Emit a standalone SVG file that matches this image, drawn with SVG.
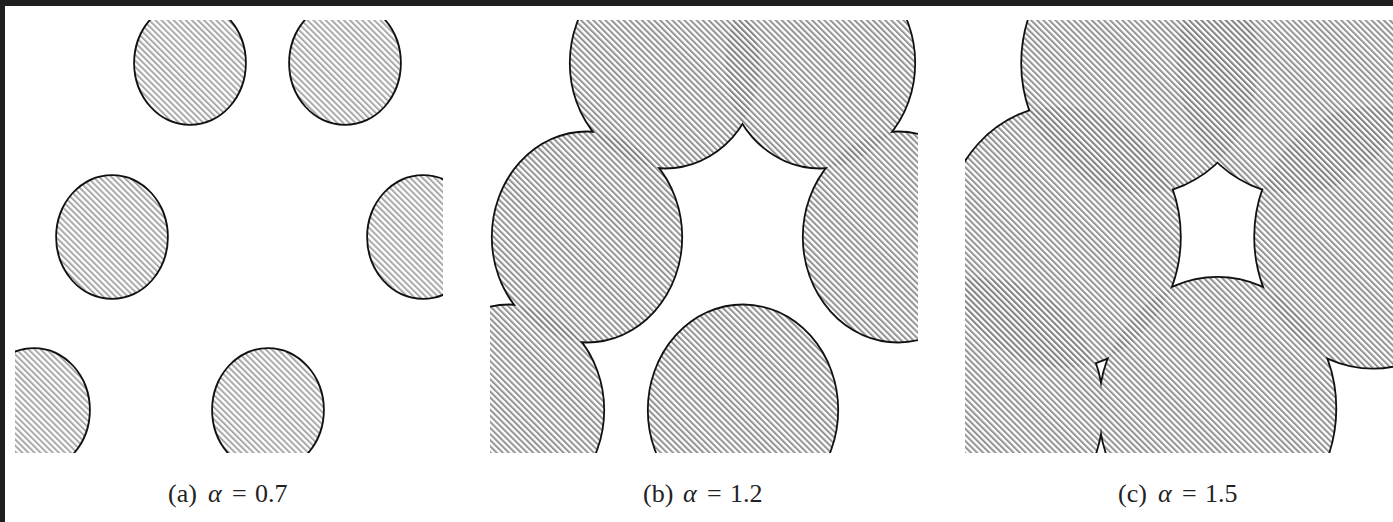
<svg xmlns="http://www.w3.org/2000/svg" xmlns:xlink="http://www.w3.org/1999/xlink" width="1393" height="522" viewBox="0 0 1393 522">
  <style>
    .outline { fill: none; stroke: #111; stroke-width: 3.6; }
    .under { fill: url(#hatchBase); stroke: none; }
    .shade { fill: url(#hatchDark); fill-opacity: 0.12; stroke: none; }
    .cap { font-family: "Liberation Serif", "DejaVu Serif", serif; font-size: 26px; fill: #222; }
    .gr { font-style: italic; }
  </style>
  <defs>
    <pattern id="hatchBase" patternUnits="userSpaceOnUse" width="4.3" height="10" patternTransform="rotate(-45)">
      <rect x="0" y="0" width="4.3" height="10" fill="#fff"/>
      <rect x="0" y="0" width="2" height="10" fill="#a9a9a9"/>
    </pattern>
    <pattern id="hatchDark" patternUnits="userSpaceOnUse" width="4.3" height="10" patternTransform="rotate(-45)">
      <rect x="0" y="0" width="2" height="10" fill="#000"/>
    </pattern>
    <clipPath id="clipA"><rect x="15" y="20" width="428" height="433"/></clipPath>
    <clipPath id="clipB"><rect x="490" y="20" width="428" height="433"/></clipPath>
    <clipPath id="clipC"><rect x="965" y="20" width="428" height="433"/></clipPath>
    <g id="setA">
      <ellipse cx="190" cy="63" rx="55" ry="61"/>
      <ellipse cx="345" cy="63" rx="55" ry="61"/>
      <ellipse cx="112" cy="237" rx="55" ry="61"/>
      <ellipse cx="423" cy="237" rx="55" ry="61"/>
      <ellipse cx="34" cy="410" rx="55" ry="61"/>
      <ellipse cx="268" cy="410" rx="55" ry="61"/>
    </g>
    <g id="setB">
      <ellipse cx="665" cy="63" rx="94.3" ry="104.6"/>
      <ellipse cx="820" cy="63" rx="94.3" ry="104.6"/>
      <ellipse cx="587" cy="237" rx="94.3" ry="104.6"/>
      <ellipse cx="898" cy="237" rx="94.3" ry="104.6"/>
      <ellipse cx="509" cy="410" rx="94.3" ry="104.6"/>
      <ellipse cx="743" cy="410" rx="94.3" ry="104.6"/>
    </g>
    <g id="setC">
      <ellipse cx="1140" cy="63" rx="117.9" ry="130.7"/>
      <ellipse cx="1295" cy="63" rx="117.9" ry="130.7"/>
      <ellipse cx="1062" cy="237" rx="117.9" ry="130.7"/>
      <ellipse cx="1373" cy="237" rx="117.9" ry="130.7"/>
      <ellipse cx="984.5" cy="408.5" rx="117.9" ry="130.7"/>
      <ellipse cx="1217.5" cy="408.5" rx="117.9" ry="130.7"/>
    </g>
  </defs>

  <rect x="0" y="0" width="1393" height="522" fill="#fff"/>
  <rect id="frame-top" x="0" y="0" width="1393" height="6" fill="#1f1f1f"/>
  <rect id="frame-left" x="0" y="0" width="5" height="522" fill="#1f1f1f"/>

  <g id="panel-a" clip-path="url(#clipA)">
    <use xlink:href="#setA" class="outline"/>
    <use xlink:href="#setA" class="under"/>
  </g>
  <g id="panel-b" clip-path="url(#clipB)">
    <use xlink:href="#setB" class="outline"/>
    <use xlink:href="#setB" class="under"/>
    <use xlink:href="#setB" class="shade"/>
  </g>
  <g id="panel-c" clip-path="url(#clipC)">
    <use xlink:href="#setC" class="outline"/>
    <use xlink:href="#setC" class="under"/>
    <use xlink:href="#setC" class="shade"/>
  </g>

  <g id="captions">
    <text class="cap" y="502"><tspan x="168">(a)</tspan><tspan x="208" class="gr">α</tspan><tspan x="232">=</tspan><tspan x="255">0.7</tspan></text>
    <text class="cap" y="502"><tspan x="643">(b)</tspan><tspan x="683" class="gr">α</tspan><tspan x="707">=</tspan><tspan x="730">1.2</tspan></text>
    <text class="cap" y="502"><tspan x="1118">(c)</tspan><tspan x="1158" class="gr">α</tspan><tspan x="1182">=</tspan><tspan x="1205">1.5</tspan></text>
  </g>
</svg>
